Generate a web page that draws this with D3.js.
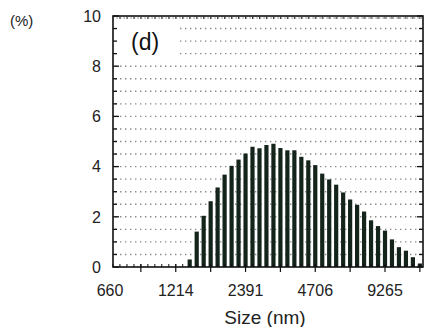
<!DOCTYPE html>
<html>
<head>
<meta charset="utf-8">
<script src="https://cdn.jsdelivr.net/npm/d3@7"></script>
<style>
  html, body { margin: 0; padding: 0; background: #fff; }
  svg { display: block; font-family: "Liberation Sans", Arial, sans-serif; }
</style>
</head>
<body>
<svg id="chart"></svg>
<script>
// ── Data ─────────────────────────────────────────────────────────────────────
// bin centres (nm), log spaced
const sizes = [1390, 1488, 1592, 1704, 1823, 1951, 2088, 2234, 2391, 2558,
               2738, 2929, 3135, 3355, 3590, 3842, 4111, 4399, 4706, 5036,
               5388, 5766, 6170, 6603, 7066, 7561, 8091, 8658, 9265, 9914,
               10609, 11352, 12148, 12999];
const percent = [0.30, 1.41, 2.04, 2.62, 3.17, 3.68, 4.03, 4.28, 4.52, 4.79,
                 4.73, 4.86, 4.91, 4.74, 4.65, 4.65, 4.39, 4.25, 4.06, 3.72,
                 3.49, 3.28, 2.97, 2.69, 2.48, 2.21, 1.86, 1.63, 1.45, 1.10,
                 0.79, 0.65, 0.39, 0.14];

const binTicks = [660, 706, 756, 809, 865, 926, 991, 1060, 1135, 1214, 1299,
                  1390, 1488, 1592, 1704, 1823, 1951, 2088, 2234, 2391, 2558,
                  2738, 2929, 3135, 3355, 3590, 3842, 4111, 4399, 4706, 5036,
                  5388, 5766, 6170, 6603, 7066, 7561, 8091, 8658, 9265, 9914,
                  10609, 11352, 12148, 12999];
const xMajorTicks = [865, 1214, 1704, 2391, 3355, 4706, 6603, 9265, 12999];
const xLabels = [660, 1214, 2391, 4706, 9265];
const yLabels = [0, 2, 4, 6, 8, 10];

// ── Layout ───────────────────────────────────────────────────────────────────
const W = 425, H = 327;
const L = 113, R = 423, T = 16, B = 267;

const svg = d3.select('#chart').attr('width', W).attr('height', H);

const x = d3.scaleLog().domain([660, 13400]).range([L, R]);
const y = d3.scaleLinear().domain([0, 10]).range([B, T]);

// dotted horizontal grid every 0.5
const gGrid = svg.append('g');
gGrid.selectAll('line').data(y.ticks(20).filter(v => v > 0 && v < 10))
  .join('line')
    .attr('x1', L + 2).attr('x2', R)
    .attr('y1', d => y(d)).attr('y2', d => y(d))
    .attr('stroke', '#8a8a8a').attr('stroke-width', 1.4)
    .attr('stroke-dasharray', '1.4,3.6');

// white patch behind panel label
svg.append('rect')
  .attr('x', L + 1).attr('y', T + 2).attr('width', 63).attr('height', 45)
  .attr('fill', '#fff');

// bars
svg.append('g').selectAll('rect').data(sizes)
  .join('rect')
    .attr('x', d => x(d) - 2.1)
    .attr('width', 4.2)
    .attr('y', (d, i) => y(percent[i]))
    .attr('height', (d, i) => B - y(percent[i]))
    .attr('fill', '#15241a');

// frame
svg.append('rect')
  .attr('x', L).attr('y', T).attr('width', R - L).attr('height', B - T)
  .attr('fill', 'none').attr('stroke', '#111').attr('stroke-width', 1.6);

// bottom axis: minor ticks up, major ticks crossing
const gx = svg.append('g');
gx.selectAll('.mn').data(binTicks).join('line').attr('class', 'mn')
  .attr('x1', d => x(d)).attr('x2', d => x(d))
  .attr('y1', B).attr('y2', B - 3)
  .attr('stroke', '#111').attr('stroke-width', 1);
gx.selectAll('.mj').data(xMajorTicks).join('line').attr('class', 'mj')
  .attr('x1', d => x(d)).attr('x2', d => x(d))
  .attr('y1', B - 3).attr('y2', B + 5)
  .attr('stroke', '#111').attr('stroke-width', 1.2);
gx.selectAll('text').data(xLabels).join('text')
  .attr('x', d => x(d) - (d === 660 ? 3 : 0)).attr('y', 296)
  .attr('text-anchor', 'middle').attr('font-size', 16).attr('fill', '#222')
  .text(d => d);

// top axis: dense minor ticks down
svg.append('g').selectAll('line').data(binTicks).join('line')
  .attr('x1', d => x(d)).attr('x2', d => x(d))
  .attr('y1', T).attr('y2', T + 3)
  .attr('stroke', '#333').attr('stroke-width', 1);
svg.append('line')
  .attr('x1', L).attr('x2', R).attr('y1', T + 2).attr('y2', T + 2)
  .attr('stroke', '#555').attr('stroke-width', 1.2).attr('stroke-dasharray', '1.2,2.3');

// left/right axes: inward ticks
const yAll = y.ticks(20);
['left', 'right'].forEach(side => {
  const x0 = side === 'left' ? L : R;
  const dir = side === 'left' ? 1 : -1;
  svg.append('g').selectAll('line').data(yAll).join('line')
    .attr('x1', x0).attr('x2', d => x0 + dir * (yLabels.includes(d) ? 6 : 4))
    .attr('y1', d => y(d)).attr('y2', d => y(d))
    .attr('stroke', '#111').attr('stroke-width', 1.3);
});
svg.append('g').selectAll('text').data(yLabels).join('text')
  .attr('x', 101).attr('y', d => y(d)).attr('dy', '0.36em')
  .attr('text-anchor', 'end').attr('font-size', 16).attr('fill', '#222')
  .text(d => d);

// labels
svg.append('text').attr('x', 10).attr('y', 26).attr('font-size', 15)
  .attr('fill', '#222').text('(%)');
svg.append('text').attr('x', 131).attr('y', 50).attr('font-size', 23)
  .attr('fill', '#111').text('(d)');
svg.append('text').attr('x', 265).attr('y', 324).attr('text-anchor', 'middle')
  .attr('font-size', 19).attr('fill', '#222').text('Size (nm)');
</script>
</body>
</html>
